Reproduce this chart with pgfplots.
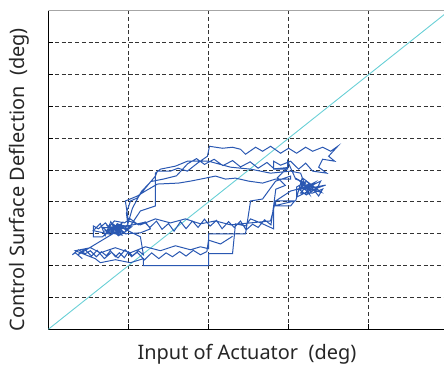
\documentclass[border=0pt]{standalone}
\usepackage{pgfplots}
\pgfplotsset{compat=1.18}
\usepackage{fontspec}
\setmainfont{Noto Sans}
\definecolor{lineblue}{RGB}{42,88,178}
\definecolor{diagcyan}{RGB}{105,208,214}
\begin{document}
\begin{tikzpicture}
\begin{axis}[
  at={(0,0)}, anchor=south west,
  scale only axis, width=400.5bp, height=318.4bp,
  xmin=-25, xmax=25, ymin=-25, ymax=25,
  xtick={-15,-5,5,15}, ytick={-20,-15,...,20},
  xticklabels={}, yticklabels={},
  axis x line*=bottom, axis y line*=left,
  axis line style={-, black, line width=1.1bp},
  tick align=inside, major tick length=5bp,
  tick style={black, line width=1bp},
  grid=major,
  major grid style={black!80, line width=1.1bp, dash pattern=on 4bp off 2.7bp},
  xlabel={Input of Actuator\ \ (deg)},
  ylabel={Control Surface Deflection\ \ (deg)},
  label style={font=\fontsize{20}{23}\selectfont, text=black!85},
  xlabel style={at={(axis description cs:0.496,-0.078)}, anchor=center},
  ylabel style={at={(axis description cs:-0.073,0.47)}, anchor=center},
  clip=true,
]
\addplot[diagcyan, line width=0.9bp] coordinates {(-25,-25) (25,25)};
\addplot[lineblue, line width=1bp] coordinates {
(-20.75,-13.91) (-21.63,-12.98) (-22,-13.29) (-21.25,-12.51) (-20.38,-13.13)
(-19.75,-12.66) (-19,-13.6) (-18.38,-12.82) (-17.75,-13.44) (-17.25,-12.66)
(-16.63,-13.6) (-16.13,-12.98) (-15.5,-13.76) (-15,-12.82) (-14.5,-13.44)
(-13.75,-12.66) (-13.13,-13.29)
(-13.5,-10.48) (-14.5,-9.85) (-16,-8.91) (-17,-9.54) (-17.88,-8.29) (-18.75,-9.23)
(-19.38,-8.76) (-19.38,-10.48) (-18.25,-10.48) (-17.25,-9.38) (-16.5,-10.01)
(-16,-8.6) (-15.25,-9.54) (-16.25,-10.32) (-17.38,-8.91) (-16.75,-7.98)
(-15.5,-8.29) (-14.75,-7.66) (-13.75,-8.6) (-12.88,-8.13) (-12.25,-9.23)
(-13.5,-9.85) (-15.38,-10.01)
(-16.9,-9.1) (-16.2,-9.9) (-17.6,-9.7) (-16.8,-8.7) (-15.9,-9.4) (-17.2,-10.1)
(-19.4,-9.5) (-18.5,-8.4) (-17.9,-10.3) (-17.2,-8.1) (-16.4,-10.0) (-15.8,-8.3)
(-16.9,-9.6) (-17.6,-8.8) (-16.1,-9.2) (-17.0,-8.4) (-15.5,-9.8) (-14.6,-8.9)
(-16.3,-8.6) (-17.4,-9.9) (-18.2,-9.0)
(-15,-9.23) (-15.25,-6.73) (-14.75,-4.85) (-13.88,-4.38) (-12.88,-2.82)
(-11.63,-0.94) (-11.38,-0.16) (-9.75,-0.16) (-8.8,0.3) (-7.63,-0.16) (-6.38,1.09)
(-5.13,2.18) (-4.88,3.74) (-3.25,3.43) (-2,3.59) (-1,3.27) (-0.38,2.49)
(0.88,3.59) (1.75,2.96) (2.75,3.74) (4,2.65) (5,3.43) (6,2.65) (7.13,3.59)
(8,2.96) (9.25,3.59) (10.25,2.96) (11.13,3.74) (10,2.18) (10.75,1.4)
(9.25,1.71) (8.75,0.46) (9.75,-0.48) (8,-0.16) (7.13,1.09) (6.25,0.15)
(5.25,1.4) (4,0.77) (3.13,1.4) (3.13,0.15) (4.88,0.15) (4.88,1.4)
(5.88,-1.41) (7.13,-2.04) (6.25,-2.98) (7.75,-2.51) (9,-1.73) (8.38,-3.29)
(7.13,-2.66) (6.5,-3.6) (8,-3.6) (9.25,-2.98) (8.75,-4.07) (7.25,-1.73)
(6,-2.66) (6,-4.23) (7.5,-3.29) (9.63,-2.35)
(7.0,-3.0) (8.1,-2.2) (6.6,-2.4) (7.6,-3.8) (6.9,-2.0)
(6.2,-1.5) (7.8,-3.4) (6.8,-2.3) (8.6,-2.8) (7.2,-3.9) (6.4,-3.1) (8.3,-1.9)
(7.4,-2.9) (9.1,-3.5) (6.7,-1.2)
(5.88,-4.85) (3.38,-4.85) (3.38,-5.63) (5.25,-5.63) (5.75,-4.85) (3.13,-5.63)
(3.13,-9.23) (1.5,-8.29) (0.25,-7.66) (-0.38,-8.76) (-1.63,-8.44)
(-2,-13.13) (-5,-13.13) (-5,-15.01) (-13.13,-15.01) (-13.13,-13.91)
(-14.75,-14.54) (-16.63,-14.07) (-18.5,-14.54) (-19.13,-13.91)
(-21.63,-12.66) (-19.75,-12.19) (-18.5,-12.98) (-16.63,-12.19) (-14.75,-12.98)
(-12.88,-12.04) (-11,-12.66) (-9.13,-11.88) (-7.25,-12.51) (-6,-12.04)
(-5,-12.35) (-5,-10.01) (-2.88,-10.01) (-0.38,-10.01) (0.25,-4.85)
(1.75,-4.54) (3.38,-1.73) (5.25,-0.94)
(5.25,-1.41) (3.38,-1.41) (1.75,-2.04) (0,-1.73) (-1.63,-1.26) (-2.88,-1.41)
(-4.13,-0.94) (-5.38,-1.26) (-7.25,-1.73) (-8.75,-2.04) (-11.38,-2.19)
(-12.88,-3.29) (-13.88,-4.07) (-15.38,-4.85) (-15,-7.98)
(-13.5,-8.6) (-11.63,-7.66) (-9.75,-8.29) (-7.88,-7.66) (-6,-8.44)
(-4.13,-7.98) (-2.25,-8.6) (0.25,-8.29) (2.75,-7.98) (3.38,-4.85)
(5.25,-3.29) (7.13,-2.66)
(6.5,-0.48) (5.25,-0.16) (2.75,-0.48) (0.25,0.15) (-2.25,0.46) (-5,1.4)
(-7.63,1.4) (-9.13,0.62) (-11,0.15) (-11.63,-0.48) (-11.63,-5.63)
(-13.5,-6.41) (-15,-9.23)
(-16.4,-8.4) (-17.1,-9.9) (-15.8,-10.2) (-16.6,-8.9) (-18.0,-9.6)
(-13,-8.2) (-12.3,-9.0) (-11.5,-8.0) (-10.8,-9.3) (-10,-8.4) (-9.3,-9.6)
(-8.5,-8.1) (-7.8,-9.2) (-7,-8.0) (-6.3,-9.0) (-5.5,-7.7) (-4.8,-8.8)
(-4,-7.9) (-3.3,-9.2) (-2.5,-8.1) (-1.8,-9.0) (-1,-8.0) (-0.3,-9.4)
(0.5,-8.5) (1.2,-9.0) (2,-7.8) (2.8,-8.6) (3.13,-5.6) (3.4,-3.0)
(4.6,-2.4) (3.6,-1.2) (4.9,0.4) (3.2,0.2) (2.3,1.2) (1.2,0.3) (0.2,1.3)
(-1,0.5) (-2,1.5) (-3.2,0.7) (-4.3,1.7) (-5.5,0.9) (-6.5,1.8) (-7.6,1.0)
(-9.0,-0.9) (-10.6,-1.4) (-12.2,-1.8) (-13.4,-3.4) (-14.5,-6.0) (-15.1,-8.6)
(-21.3,-13.3) (-20.5,-12.4) (-19.6,-13.5) (-18.9,-12.6) (-18.0,-13.9)
(-17.1,-12.9) (-16.3,-13.8) (-15.4,-12.5) (-14.6,-13.6) (-13.9,-12.9)
(-13,-14.1) (-12.1,-13.0) (-11.2,-13.9) (-10.3,-13.0) (-9.5,-13.6)
(-8.6,-12.8) (-7.8,-13.5) (-6.9,-12.6) (-6,-13.3) (-5.2,-12.8)
(-5,-11.0) (-3.5,-11.6) (-2.0,-10.4)
};
\draw[gray!70, line width=0.9bp] (rel axis cs:0,1) -- (rel axis cs:1,1);
\end{axis}
\pgfresetboundingbox
\useasboundingbox (-48.3bp,-36.7bp) rectangle (395.7bp,329.3bp);
\end{tikzpicture}
\end{document}
